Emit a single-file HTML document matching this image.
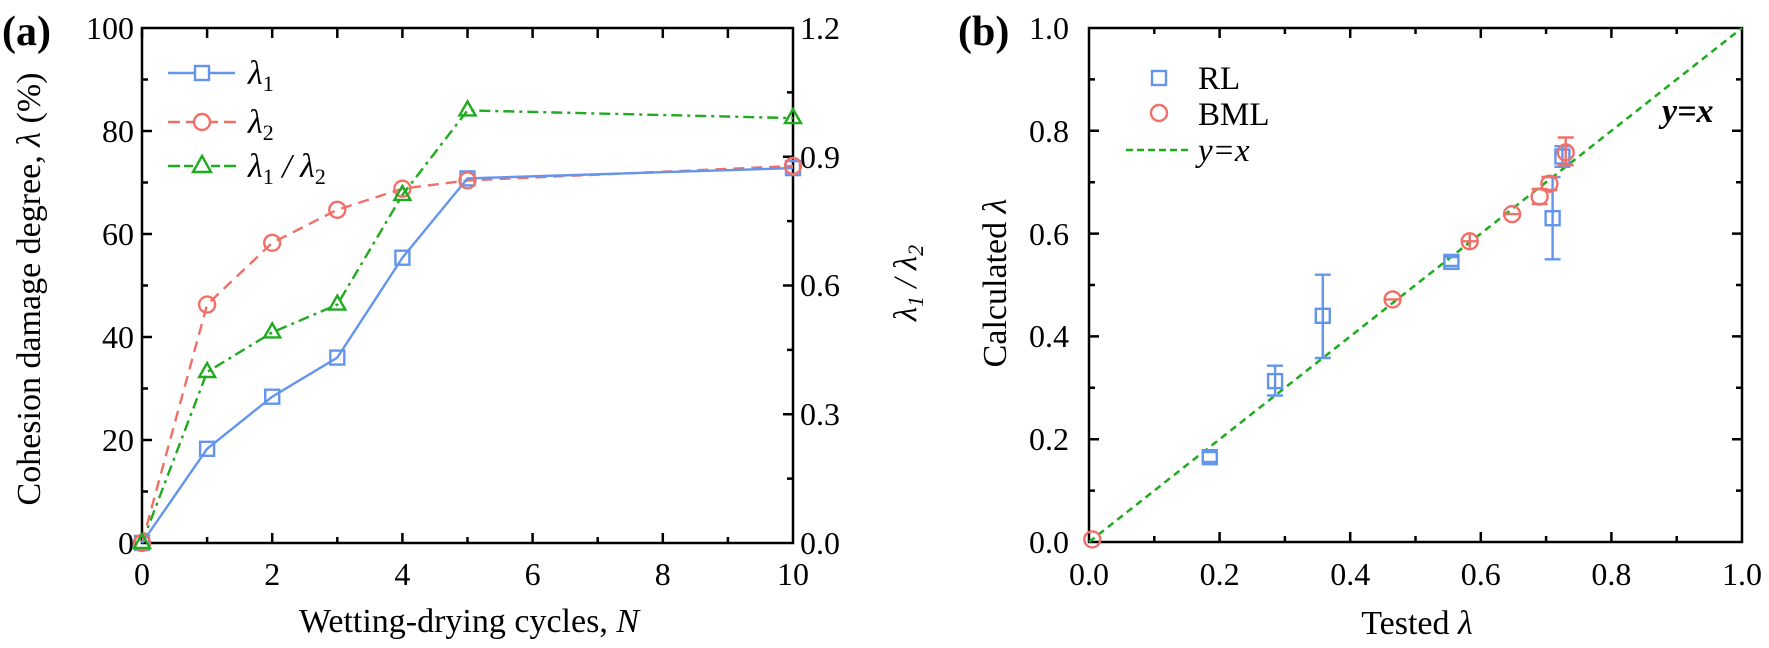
<!DOCTYPE html>
<html><head><meta charset="utf-8"><style>
html,body{margin:0;padding:0;background:#fff}
svg{display:block}
text{font-family:"Liberation Serif",serif;fill:#000}
</style></head><body>
<svg width="1769" height="648" viewBox="0 0 1769 648" xmlns="http://www.w3.org/2000/svg">
<!-- Panel A -->
<text x="2" y="45" font-size="42" font-weight="bold">(a)</text>
<g stroke="#000" stroke-width="2.5" fill="none">
<rect x="142" y="28" width="651" height="515"/>
<path d="M142,543v-10M207.1,543v-6M272.2,543v-10M337.3,543v-6M402.4,543v-10M467.5,543v-6M532.6,543v-10M597.7,543v-6M662.8,543v-10M727.9,543v-6
M142,28v10M207.1,28v10M272.2,28v10M337.3,28v10M402.4,28v10M467.5,28v10M532.6,28v10M597.7,28v10M662.8,28v10M727.9,28v10"/>
<path d="M142,440h10M142,337h10M142,234h10M142,131h10M142,491.5h6M142,388.5h6M142,285.5h6M142,182.5h6M142,79.5h6"/>
<path d="M793,414.25h-10M793,285.5h-10M793,156.75h-10M793,478.6h-6M793,349.9h-6M793,221.1h-6M793,92.4h-6"/>
</g>
<g font-size="32" text-anchor="end">
<text x="134" y="554">0</text><text x="134" y="451">20</text><text x="134" y="348">40</text>
<text x="134" y="245">60</text><text x="134" y="142">80</text><text x="134" y="39">100</text>
</g>
<g font-size="32" text-anchor="start">
<text x="800" y="554">0.0</text><text x="800" y="425">0.3</text><text x="800" y="296">0.6</text>
<text x="800" y="168">0.9</text><text x="800" y="39">1.2</text>
</g>
<g font-size="32" text-anchor="middle">
<text x="142" y="585">0</text><text x="272.2" y="585">2</text><text x="402.4" y="585">4</text>
<text x="532.6" y="585">6</text><text x="662.8" y="585">8</text><text x="793" y="585">10</text>
</g>
<text x="469" y="632" font-size="34" text-anchor="middle">Wetting-drying cycles, <tspan font-style="italic">N</tspan></text>
<text transform="translate(40,289) rotate(-90)" font-size="34" text-anchor="middle">Cohesion damage degree, <tspan font-style="italic">λ</tspan> (%)</text>
<text transform="translate(916,283) rotate(-90)" font-size="33" text-anchor="middle" font-style="italic">λ<tspan font-size="22" dy="7">1</tspan><tspan dy="-7"> / λ</tspan><tspan font-size="22" dy="7">2</tspan></text>

<polyline fill="none" stroke="#1faa1f" stroke-width="2.4" stroke-dasharray="11,5,3,5" points="142,543 207.1,372 272.2,332.4 337.3,304.6 402.4,194.9 467.5,110.4 793,118.1"/>
<polyline fill="none" stroke="#f07068" stroke-width="2.4" stroke-dasharray="11,7" points="142,543 207.1,304.6 272.2,242.8 337.3,209.8 402.4,188.7 467.5,180.4 793,166"/>
<polyline fill="none" stroke="#6495ed" stroke-width="2.4" points="142,543 207.1,448.8 272.2,396.7 337.3,357.6 402.4,257.7 467.5,178.4 793,168.1"/>
<g fill="none" stroke="#6495ed" stroke-width="2.4">
<rect x="135" y="536" width="14" height="14"/><rect x="200.1" y="441.8" width="14" height="14"/><rect x="265.2" y="389.7" width="14" height="14"/>
<rect x="330.3" y="350.6" width="14" height="14"/><rect x="395.4" y="250.7" width="14" height="14"/><rect x="460.5" y="171.4" width="14" height="14"/>
<rect x="786" y="161.1" width="14" height="14"/>
<rect x="195" y="66" width="14" height="14"/>
</g>
<g fill="none" stroke="#f07068" stroke-width="2.4">
<circle cx="142" cy="543" r="8"/><circle cx="207.1" cy="304.6" r="8"/><circle cx="272.2" cy="242.8" r="8"/><circle cx="337.3" cy="209.8" r="8"/>
<circle cx="402.4" cy="188.7" r="8"/><circle cx="467.5" cy="180.4" r="8"/><circle cx="793" cy="166" r="8"/>
<circle cx="202" cy="122" r="8"/>
</g>
<g fill="none" stroke="#1faa1f" stroke-width="2.4">
<path d="M142,534l8,14h-16z"/><path d="M207.1,363l8,14h-16z"/><path d="M272.2,323.4l8,14h-16z"/><path d="M337.3,295.6l8,14h-16z"/>
<path d="M402.4,185.9l8,14h-16z"/><path d="M467.5,101.4l8,14h-16z"/><path d="M793,109.1l8,14h-16z"/>
<path d="M202,156l9,16h-18z"/>
</g>
<path d="M168,73h27M209,73h26" stroke="#6495ed" stroke-width="2.4"/>
<path d="M168,122h12M186,122h8M210,122h8M224,122h12" stroke="#f07068" stroke-width="2.4"/>
<path d="M168,166h12M184,166h9M211,166h9M224,166h12" stroke="#1faa1f" stroke-width="2.4"/>
<g font-size="34" font-style="italic">
<text x="248" y="84">λ<tspan font-size="22" font-style="normal" dy="7">1</tspan></text>
<text x="248" y="133">λ<tspan font-size="22" font-style="normal" dy="7">2</tspan></text>
<text x="248" y="177">λ<tspan font-size="22" font-style="normal" dy="7">1</tspan><tspan dy="-7"> / λ</tspan><tspan font-size="22" font-style="normal" dy="7">2</tspan></text>
</g>

<!-- Panel B -->
<text x="958" y="45" font-size="42" font-weight="bold">(b)</text>
<g stroke="#000" stroke-width="2.5" fill="none">
<rect x="1089" y="28" width="653" height="514"/>
<path d="M1154.3,542v-6M1219.6,542v-10M1284.9,542v-6M1350.2,542v-10M1415.5,542v-6M1480.8,542v-10M1546.1,542v-6M1611.4,542v-10M1676.7,542v-6
M1154.3,28v6M1219.6,28v10M1284.9,28v6M1350.2,28v10M1415.5,28v6M1480.8,28v10M1546.1,28v6M1611.4,28v10M1676.7,28v6
M1089,490.6h6M1089,439.2h10M1089,387.8h6M1089,336.4h10M1089,285h6M1089,233.6h10M1089,182.2h6M1089,130.8h10M1089,79.4h6
M1742,490.6h-6M1742,439.2h-10M1742,387.8h-6M1742,336.4h-10M1742,285h-6M1742,233.6h-10M1742,182.2h-6M1742,130.8h-10M1742,79.4h-6"/>
</g>
<g font-size="32" text-anchor="end">
<text x="1069" y="553">0.0</text><text x="1069" y="450">0.2</text><text x="1069" y="347">0.4</text>
<text x="1069" y="245">0.6</text><text x="1069" y="142">0.8</text><text x="1069" y="39">1.0</text>
</g>
<g font-size="32" text-anchor="middle">
<text x="1089" y="585">0.0</text><text x="1219.6" y="585">0.2</text><text x="1350.2" y="585">0.4</text>
<text x="1480.8" y="585">0.6</text><text x="1611.4" y="585">0.8</text><text x="1742" y="585">1.0</text>
</g>
<text x="1417" y="634" font-size="34" text-anchor="middle">Tested <tspan font-style="italic">λ</tspan></text>
<text transform="translate(1006,283) rotate(-90)" font-size="34" text-anchor="middle">Calculated <tspan font-style="italic">λ</tspan></text>
<line x1="1089" y1="542" x2="1742" y2="28" stroke="#1faa1f" stroke-width="2.5" stroke-dasharray="7,5"/>
<g stroke="#6495ed" stroke-width="2.4" fill="none">
<path d="M1275.1,395.5V365.7M1267,395.5h16M1267,365.7h16"/>
<path d="M1322.8,358V274.7M1314.8,358h16M1314.8,274.7h16"/>
<path d="M1552.6,259.3V177.1M1544.6,259.3h16M1544.6,177.1h16"/>
<path d="M1562.4,166.8V146.2M1554.4,166.8h16M1554.4,146.2h16"/>
<path d="M1201.8,462h16M1201.8,452h16M1443.4,266h16M1443.4,257h16"/>
<rect x="1202.8" y="450.2" width="14" height="14"/><rect x="1268.1" y="374.1" width="14" height="14"/>
<rect x="1315.8" y="308.8" width="14" height="14"/><rect x="1444.4" y="254.9" width="14" height="14"/>
<rect x="1545.6" y="211.2" width="14" height="14"/><rect x="1555.4" y="149.5" width="14" height="14"/>
<rect x="1152" y="71" width="14" height="14"/>
</g>
<g stroke="#f07068" stroke-width="2.4" fill="none">
<path d="M1565.7,165.2V137.5M1557.7,165.2h16M1557.7,137.5h16"/>
<path d="M1531.6,204h16M1531.6,189h16M1541.4,190h16M1541.4,177h16M1384.6,299.4h16M1461.7,241.3h16M1469.7,233v16M1504.1,214.1h16"/>
<circle cx="1092.3" cy="539.4" r="8"/><circle cx="1392.6" cy="299.4" r="8"/><circle cx="1469.7" cy="241.3" r="8"/>
<circle cx="1512.1" cy="214.1" r="8"/><circle cx="1539.6" cy="196.6" r="8"/><circle cx="1549.4" cy="183.7" r="8"/>
<circle cx="1565.7" cy="152.4" r="8"/>
<circle cx="1159" cy="113" r="8"/>
</g>
<path d="M1126,150h62" stroke="#1faa1f" stroke-width="2.5" stroke-dasharray="7,4"/>
<g font-size="33">
<text x="1198" y="89">RL</text>
<text x="1198" y="125">BML</text>
<text x="1198" y="161" font-style="italic">y=x</text>
</g>
<text x="1662" y="122" font-size="34" font-weight="bold" font-style="italic">y=x</text>
</svg>
</body></html>
